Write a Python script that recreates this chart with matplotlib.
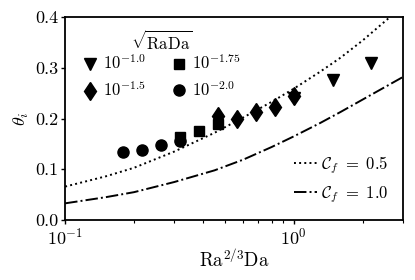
import matplotlib
matplotlib.use("Agg")
import matplotlib.pyplot as plt
from matplotlib.lines import Line2D

plt.rcParams['font.family'] = 'serif'
plt.rcParams['font.serif'] = ['cmr10']
plt.rcParams['mathtext.fontset'] = 'cm'
plt.rcParams['axes.formatter.use_mathtext'] = True
plt.rcParams['font.size'] = 13

# simulation points, grouped by sqrt(RaDa)
tri_x = [1.0, 1.48, 2.17]
tri_y = [0.241, 0.276, 0.31]
dia_x = [0.466, 0.564, 0.682, 0.826, 1.0]
dia_y = [0.205, 0.200, 0.212, 0.222, 0.245]
sq_x = [0.318, 0.385, 0.466]
sq_y = [0.163, 0.175, 0.190]
circ_x = [0.179, 0.217, 0.262, 0.318]
circ_y = [0.135, 0.139, 0.147, 0.155]

# model curves
cf05_x = [0.1, 0.15, 0.2, 0.3, 0.45, 0.6, 0.8, 1.0, 1.3, 1.6, 2.0, 2.6]
cf05_y = [0.066, 0.086, 0.103, 0.135, 0.172, 0.202, 0.233, 0.259, 0.292,
          0.320, 0.354, 0.398]
cf10_x = [0.1, 0.15, 0.2, 0.3, 0.45, 0.6, 0.8, 1.0, 1.3, 1.6, 2.2, 3.0]
cf10_y = [0.033, 0.045, 0.055, 0.075, 0.098, 0.119, 0.144, 0.165, 0.191,
          0.213, 0.248, 0.282]

fig = plt.figure(figsize=(4.15, 2.8), dpi=100)
ax = fig.add_axes([0.157, 0.214, 0.814, 0.725])

ax.plot(cf05_x, cf05_y, color='black', linestyle=':', lw=1.4)
ax.plot(cf10_x, cf10_y, color='black', linestyle='-.', lw=1.4)

h1, = ax.plot(tri_x, tri_y, 'v', color='black', ms=9, ls='none')
h2, = ax.plot(dia_x, dia_y, 'd', color='black', ms=9.5, ls='none')
h3, = ax.plot(sq_x, sq_y, 's', color='black', ms=7.5, ls='none')
h4, = ax.plot(circ_x, circ_y, 'o', color='black', ms=8, ls='none')

ax.set_xscale('log')
ax.set_xlim(0.1, 3.0)
ax.set_ylim(0.0, 0.4)
ax.set_yticks([0.0, 0.1, 0.2, 0.3, 0.4])
ax.set_yticklabels(['0.0', '0.1', '0.2', '0.3', '0.4'])
ax.set_xlabel(r'$\mathrm{Ra}^{2/3}\mathrm{Da}$', fontsize=13.5, labelpad=1)
ax.set_ylabel(r'$\theta_i$', fontsize=13, labelpad=3)

for s in ax.spines.values():
    s.set_linewidth(1.3)
ax.tick_params(which='major', length=3, width=1, labelsize=13, pad=2)
ax.tick_params(which='minor', length=2, width=0.8)

leg1 = ax.legend([h1, h2, h3, h4],
                 [r'$10^{-1.0}$', r'$10^{-1.5}$', r'$10^{-1.75}$', r'$10^{-2.0}$'],
                 title=r'$\sqrt{\mathrm{RaDa}}$', ncol=2, loc='upper left',
                 bbox_to_anchor=(0.035, 0.97), fontsize=12, title_fontsize=12,
                 frameon=False, handlelength=0.8, handletextpad=0.35,
                 columnspacing=1.6, borderaxespad=0.0, labelspacing=0.45)
leg1._legend_box.align = 'center'
leg1._legend_box.sep = 0
ax.add_artist(leg1)

lines = [Line2D([], [], color='black', ls=':', lw=1.4),
         Line2D([], [], color='black', ls='-.', lw=1.4)]
ax.legend(lines, [r'$\mathcal{C}_f\ =\ 0.5$', r'$\mathcal{C}_f\ =\ 1.0$'],
          loc='lower right', fontsize=12, frameon=False, handlelength=1.4,
          handletextpad=0.2, borderaxespad=0.5, labelspacing=0.5)

fig.savefig('out.png', dpi=100)
